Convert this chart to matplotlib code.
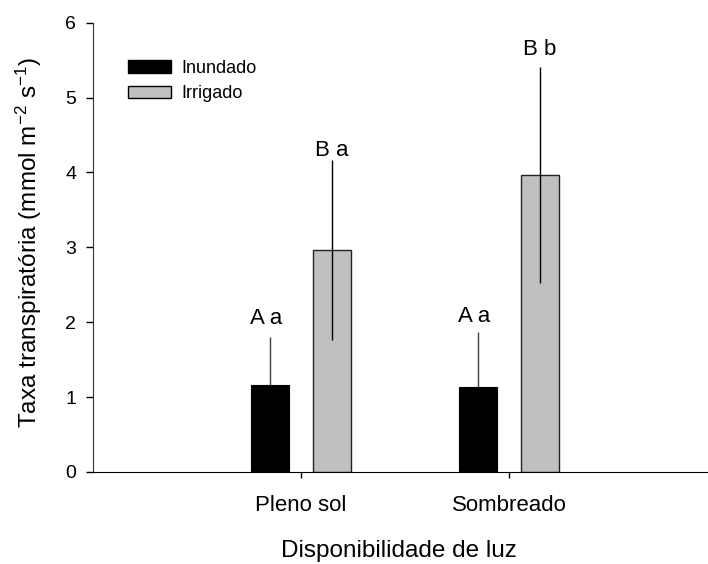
import matplotlib
matplotlib.use("Agg")
import matplotlib.pyplot as plt
from matplotlib.patches import Patch
import numpy as np

plt.rcParams['font.family'] = ['Liberation Sans', 'DejaVu Sans']
plt.rcParams['mathtext.fontset'] = 'custom'
plt.rcParams['mathtext.rm'] = 'Liberation Sans'
plt.rcParams['mathtext.it'] = 'Liberation Sans:italic'

categories = ["Pleno sol", "Sombreado"]
inundado = [1.16, 1.13]
inundado_err = [0.64, 0.74]
irrigado = [2.96, 3.97]
irrigado_err = [1.20, 1.44]
labels_inundado = ["A a", "A a"]
labels_inundado_y = [1.98, 2.00]
labels_irrigado = ["B a", "B b"]
labels_irrigado_y = [4.22, 5.57]

fig = plt.figure(figsize=(7.08, 5.64), dpi=100)
ax = fig.add_axes([93/708, 1-472/564, (708-93)/708, (472-22.7)/564])

x = np.array([1, 2])
w = 0.183
off = 0.149
ax.bar(x - off, inundado, w, color='black', edgecolor='black', linewidth=0.8, zorder=2)
ax.bar(x + off, irrigado, w, color='#c0c0c0', edgecolor='#222222', linewidth=1.0, zorder=2)
ax.errorbar(x - off, inundado, yerr=inundado_err, fmt='none', ecolor='#404040', elinewidth=1, capsize=0, zorder=1)
ax.errorbar(x + off, irrigado, yerr=irrigado_err, fmt='none', ecolor='black', elinewidth=1, capsize=0, zorder=3)

for xi, yv, t in zip(x - off, labels_inundado_y, labels_inundado):
    ax.text(xi - 0.02, yv, t, ha='center', va='baseline', fontsize=16)
for xi, yv, t in zip(x + off, labels_irrigado_y, labels_irrigado):
    ax.text(xi, yv, t, ha='center', va='baseline', fontsize=16)

ax.set_xlim(0, 2.957)
ax.set_ylim(0, 6)
ax.set_xticks(x)
ax.set_xticklabels(categories, fontsize=16)
ax.set_yticks(range(0, 7))
ax.tick_params(axis='y', labelsize=14, direction='out', length=5, pad=7, width=1)
ax.tick_params(axis='x', direction='out', length=4.5, pad=12, width=1)
ax.spines['top'].set_visible(False)
ax.spines['right'].set_visible(False)
ax.spines['left'].set_color('#333333')
ax.set_ylabel(r'Taxa transpiratória (mmol m$^{\mathregular{-2}}$ s$^{\mathregular{-1}}$)', fontsize=17.5)
ax.yaxis.set_label_coords(-0.08, 0.51)
ax.set_xlabel('Disponibilidade de luz', fontsize=17.5)
ax.xaxis.set_label_coords(0.497, -0.152)

handles = [Patch(facecolor='black', edgecolor='black', label='Inundado'),
           Patch(facecolor='#c0c0c0', edgecolor='black', label='Irrigado')]
ax.legend(handles=handles, loc='upper left', bbox_to_anchor=(0.045, 0.933), frameon=False,
          fontsize=13, handlelength=2.4, handleheight=0.7, handletextpad=0.55, labelspacing=0.45,
          borderaxespad=0)

fig.savefig('out.png', dpi=100)
